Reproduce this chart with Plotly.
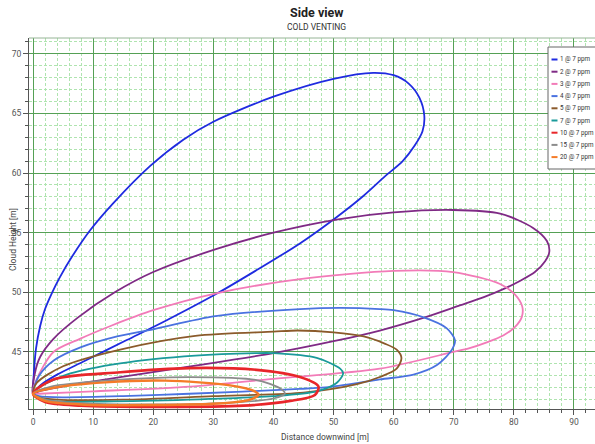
import plotly.graph_objects as go

# ---------------- data ----------------
labels = ["1 @ 7 ppm", "2 @ 7 ppm", "3 @ 7 ppm", "4 @ 7 ppm", "5 @ 7 ppm",
          "7 @ 7 ppm", "10 @ 7 ppm", "15 @ 7 ppm", "20 @ 7 ppm"]

x_1 = [0, 0.15, 0.5, 1.2, 2.0, 3.1, 4.5, 6.5, 9.5, 13.4, 19.5, 25, 30, 40, 50, 56.6, 60, 62.5, 64.3, 65.1,
       64.8, 63.5, 61.5, 58.5, 55, 50.5, 44.4, 37, 30.6, 22, 15.6, 8.4, 4, 1.2, 0.3, 0]
y_1 = [41.5, 43.3, 45.3, 47.2, 48.6, 49.9, 51.3, 53.0, 55.2, 57.5, 60.6, 62.8, 64.3, 66.4, 67.9, 68.4, 68.2, 67.5, 66.3, 64.8,
       63.5, 62.3, 61.0, 59.7, 58.1, 56.3, 54.1, 51.8, 49.9, 47.6, 46.0, 44.2, 43.1, 42.2, 41.7, 41.5]

x_2 = [0, 0.3, 1.2, 3.4, 7.5, 13.6, 20, 30.3, 40, 50.5, 60, 69.9, 77.7, 83.2, 85.5, 85.9, 85.2, 83.5,
       81.0, 78.8, 75.0, 71.0, 65.2, 57.7, 50, 40, 27, 14.5, 6, 1, 0]
y_2 = [41.5, 43.2, 44.6, 46.1, 47.9, 50.0, 51.7, 53.6, 55.0, 56.1, 56.7, 56.9, 56.6, 55.4, 54.3, 53.4, 52.6, 51.7,
       50.95, 50.4, 49.6, 48.9, 47.9, 46.8, 45.9, 44.9, 43.85, 42.9, 42.2, 41.7, 41.5]

x_3 = [0, 0.6, 3.4, 7.8, 13, 20, 30.3, 44.4, 60, 69.9, 77.7, 80.2, 81.4, 81.3, 80.2, 78.3, 75.5,
       72.5, 69.9, 57.7, 40, 26.1, 10, 1, 0]
y_3 = [41.5, 42.7, 45.0, 46.1, 47.2, 48.5, 49.9, 51.1, 51.8, 51.7, 50.7, 49.8, 48.8, 47.9, 47.1, 46.4, 45.8,
       45.3, 45.0, 43.6, 42.75, 42.1, 41.7, 41.5, 41.5]

x_4 = [0, 1, 3.5, 8, 14, 20, 30.3, 44.4, 51.1, 57.7, 60, 65, 68.8, 70.2, 69.7, 67.2, 63.3, 57.7,
       50, 44.4, 26, 15, 5, 1, 0]
y_4 = [41.5, 43.0, 44.3, 45.4, 46.3, 46.9, 48.0, 48.6, 48.7, 48.6, 48.5, 47.9, 47.0, 46.0, 45.2, 43.9, 43.1, 42.7,
       42.1, 41.9, 41.5, 41.3, 41.2, 41.3, 41.5]

x_5 = [0, 0.6, 5, 14.5, 27, 40, 44, 50, 55, 58.5, 60.5, 61.3, 60.5, 57.7, 53.9, 45, 30, 15, 4, 1, 0]
y_5 = [41.5, 42.4, 43.8, 45.2, 46.35, 46.7, 46.8, 46.65, 46.3, 45.7, 45.2, 44.5, 43.6, 42.9, 42.3,
       41.6, 41.3, 41.0, 41.0, 41.2, 41.5]

x_7 = [0, 1.2, 6.2, 14.5, 27, 37, 40, 47.2, 51.1, 51.6, 50.5, 47.2, 40, 26, 12, 3, 0]
y_7 = [41.5, 42.1, 43.2, 44.05, 44.7, 44.9, 44.9, 44.5, 43.6, 43.2, 42.4, 41.7, 41.3, 41.0, 40.85, 40.9, 41.5]

x_10 = [0, 3.4, 14.5, 26, 37.2, 44.4, 47.5, 46.9, 42.8, 35, 20, 8, 2, 0]
y_10 = [41.5, 42.7, 43.3, 43.65, 43.5, 42.9, 42.1, 41.4, 40.9, 40.5, 40.4, 40.5, 40.8, 41.5]

x_15 = [0, 3, 12, 26.1, 37.2, 41.1, 41.9, 40, 34.4, 20, 8, 2, 0]
y_15 = [41.5, 42.1, 42.6, 42.9, 42.65, 41.95, 41.5, 41.1, 40.8, 40.6, 40.7, 41.0, 41.5]

x_20 = [0, 3.4, 12, 22, 32.8, 36.9, 37.5, 36.1, 31.7, 20, 8, 2, 0]
y_20 = [41.5, 42.0, 42.45, 42.6, 42.2, 41.7, 41.4, 41.0, 40.7, 40.55, 40.6, 40.9, 41.5]

series_x = [x_1, x_2, x_3, x_4, x_5, x_7, x_10, x_15, x_20]
series_y = [y_1, y_2, y_3, y_4, y_5, y_7, y_10, y_15, y_20]

x_ticks = [0, 10, 20, 30, 40, 50, 60, 70, 80, 90]
y_ticks = [45, 50, 55, 60, 65, 70]

# ---------------- styles ----------------
colors = ["#1F2BE0", "#7F2A85", "#F27BB8", "#4A72E0", "#8B5A2B",
          "#1A9A9A", "#E8262A", "#8C8C8C", "#F47B28"]
widths = [1.8, 1.8, 1.8, 1.8, 1.8, 1.8, 2.6, 1.8, 2.4]

FONT = "Roboto, Liberation Sans, sans-serif"
W, H = 595, 444
ML, MR, MT, MB = 29, 0, 38, 35
PW, PH = W - ML - MR, H - MT - MB


def px(xp):
    return (xp - ML) / PW


def py(yp):
    return (H - MB - yp) / PH


fig = go.Figure()
for xs, ys, name, c, w in zip(series_x, series_y, labels, colors, widths):
    fig.add_trace(go.Scatter(x=xs, y=ys, mode="lines", name=name,
                             line=dict(color=c, width=w, shape="spline", smoothing=0.8),
                             showlegend=False))

major = "rgb(85,160,85)"
minor = "rgb(175,228,175)"

fig.update_layout(
    width=W, height=H,
    margin=dict(l=ML, r=MR, t=MT, b=MB, autoexpand=False),
    paper_bgcolor="white", plot_bgcolor="white",
    font=dict(family=FONT, size=9, color="#555555"),
    xaxis=dict(range=[-0.67, 93.5], tickvals=x_ticks, showgrid=True, gridcolor=major, gridwidth=1,
               zeroline=False, showline=True, linecolor="#555555", linewidth=1,
               ticks="outside", ticklen=5, tickcolor="#555555", tickfont=dict(size=8.5, color="#555555"),
               minor=dict(dtick=2, showgrid=True, gridcolor=minor, griddash="3px,2px", gridwidth=1,
                          ticks="outside", ticklen=3, tickcolor="#555555")),
    yaxis=dict(range=[40.22, 71.32], tickvals=y_ticks, showgrid=True, gridcolor=major, gridwidth=1,
               zeroline=False, showline=True, linecolor="#555555", linewidth=1,
               ticks="outside", ticklen=5, tickcolor="#555555", tickfont=dict(size=8.5, color="#555555"),
               minor=dict(dtick=1, showgrid=True, gridcolor=minor, griddash="3px,2px", gridwidth=1,
                          ticks="outside", ticklen=3, tickcolor="#555555")),
)

annotations = [
    dict(text="<b>Side view</b>", x=px(316), y=py(12), font=dict(size=12.5, color="#222222")),
    dict(text="COLD VENTING", x=px(316), y=py(27), font=dict(size=8.5, color="#333333")),
    dict(text="Cloud Height [m]", x=px(13), y=py(240), textangle=-90, font=dict(size=8.5, color="#444444")),
    dict(text="Distance downwind [m]", x=px(325), y=py(437), font=dict(size=8.5, color="#444444")),
]
shapes = [
    dict(type="line", xref="paper", yref="paper", x0=0, x1=1, y0=1, y1=1,
         line=dict(color="rgb(150,180,150)", width=1)),
    dict(type="rect", xref="paper", yref="paper", x0=px(548), x1=px(615), y0=py(47), y1=py(169),
         fillcolor="white", line=dict(color="#666666", width=1), layer="above"),
]
for i, (name, c) in enumerate(zip(labels, colors)):
    yy = 59.5 + 12.2 * i
    shapes.append(dict(type="line", xref="paper", yref="paper", x0=px(551.5), x1=px(557.5),
                       y0=py(yy), y1=py(yy), line=dict(color=c, width=2), layer="above"))
    annotations.append(dict(text=name, x=px(558.5), y=py(yy), xanchor="left", borderpad=0,
                            font=dict(size=6.3, color="#333333")))

for a in annotations:
    a.setdefault("xref", "paper")
    a.setdefault("yref", "paper")
    a.setdefault("showarrow", False)
    a.setdefault("xanchor", "center")
    a.setdefault("yanchor", "middle")

fig.update_layout(annotations=annotations, shapes=shapes)
fig.write_html("out.html", config={"displayModeBar": False},
               post_script="document.body.style.margin='0px';")
